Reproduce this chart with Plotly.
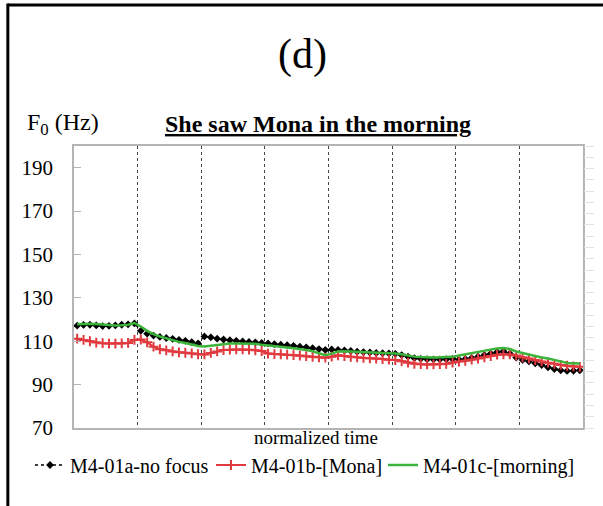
import plotly.graph_objects as go

# 80 normalized time points (10 per word segment), category centres on a 0-8 scale
n_points = 80
x_vals = [(i + 0.5) / 10 for i in range(n_points)]

no_focus = [
    117.2, 117.5, 117.6, 117.3, 117.0, 117.1, 117.3, 117.6, 117.8, 118.2,
    114.8, 113.5, 112.6, 112.0, 111.5, 111.1, 110.6, 110.2, 109.6, 109.0,
    112.2, 111.8, 111.2, 110.8, 110.5, 110.2, 109.9, 109.7, 109.5, 109.2,
    109.0, 108.7, 108.4, 108.2, 107.9, 107.5, 107.2, 106.8, 106.4, 106.0,
    106.2, 106.0, 105.8, 105.5, 105.2, 105.0, 104.8, 104.6, 104.5, 104.4,
    104.2, 103.6, 102.9, 102.2, 101.9, 101.7, 101.6, 101.6, 101.7, 101.8,
    101.5, 101.8, 102.3, 102.9, 103.6, 104.3, 105.0, 105.4, 104.3, 102.5,
    101.4, 100.7, 99.8, 99.0, 98.0, 97.2, 96.6, 96.3, 96.4, 96.6,
]
mona = [
    111.2, 110.6, 110.0, 109.4, 109.1, 108.9, 108.9, 109.0, 109.2, 110.6,
    110.8, 109.5, 107.5, 106.3, 105.8, 105.3, 104.9, 104.7, 104.4, 104.0,
    103.9, 104.6, 105.3, 105.9, 106.1, 106.2, 106.2, 106.1, 105.8, 105.5,
    104.3, 104.1, 104.0, 103.8, 103.6, 103.4, 103.1, 102.8, 102.6, 102.4,
    102.9, 103.5, 103.2, 102.8, 102.6, 102.3, 102.1, 102.0, 101.8, 101.5,
    101.3, 100.8, 100.1, 99.6, 99.4, 99.3, 99.3, 99.4, 99.6, 100.2,
    100.6, 101.0, 101.5, 102.0, 102.6, 103.2, 103.8, 104.0, 103.9, 103.4,
    102.6, 102.0, 101.3, 100.7, 100.1, 99.6, 99.1, 98.7, 98.4, 98.2,
]
morning = [
    117.8, 118.0, 118.1, 117.9, 117.6, 117.4, 117.3, 117.4, 117.6, 118.4,
    116.8, 114.8, 113.3, 112.2, 111.3, 110.6, 109.7, 109.2, 108.5, 107.8,
    107.6, 108.0, 108.4, 108.7, 108.9, 109.0, 109.0, 109.0, 108.8, 108.4,
    108.0, 107.7, 107.4, 107.1, 106.8, 106.5, 106.0, 105.4, 104.6, 103.6,
    104.3, 105.3, 105.4, 105.3, 105.2, 105.1, 105.0, 104.8, 104.6, 104.4,
    104.3, 104.0, 103.4, 102.9, 102.7, 102.5, 102.5, 102.6, 102.7, 102.8,
    103.4, 104.0, 104.5, 105.0, 105.5, 106.1, 106.7, 106.9, 106.4, 105.3,
    104.6, 103.8, 103.0, 102.5, 102.0, 101.5, 100.7, 100.0, 99.8, 99.7,
]

series_names = ["M4-01a-no focus", "M4-01b-[Mona]", "M4-01c-[morning]"]
y_ticks = [70, 90, 110, 130, 150, 170, 190]

SERIF = "Liberation Serif, Times New Roman, serif"
AXIS_GRAY = "#b4b4b4"
RED = "#e0393e"
GREEN = "#3cb43c"

fig = go.Figure()
fig.add_trace(go.Scatter(
    x=x_vals, y=no_focus, name=series_names[0], mode="lines+markers",
    line=dict(color="black", width=1.5, dash="dot"),
    marker=dict(symbol="diamond", size=6, color="black"),
    legend="legend",
))
fig.add_trace(go.Scatter(
    x=x_vals, y=mona, name=series_names[1], mode="lines+markers",
    line=dict(color=RED, width=2),
    marker=dict(symbol="cross-thin", size=7, line=dict(color=RED, width=2)),
    legend="legend2",
))
fig.add_trace(go.Scatter(
    x=x_vals, y=morning, name=series_names[2], mode="lines",
    line=dict(color=GREEN, width=2.5),
    legend="legend3",
))
# empty trace carrying the faint secondary tick strip on the right
fig.add_trace(go.Scatter(x=[], y=[], yaxis="y2", showlegend=False, hoverinfo="skip"))


def legend_at(left_px):
    return dict(orientation="h", xref="container", yref="container",
                x=left_px / 603, xanchor="left", y=0.081, yanchor="middle",
                font=dict(family=SERIF, size=20, color="black"),
                itemwidth=30, bgcolor="rgba(0,0,0,0)", borderwidth=0)


fig.update_layout(
    width=603, height=506,
    margin=dict(l=74, r=20, t=146, b=78, autoexpand=False),
    paper_bgcolor="white", plot_bgcolor="white",
    font=dict(family=SERIF, size=20, color="black"),
    showlegend=True,
    legend=legend_at(30),
    legend2=legend_at(211),
    legend3=legend_at(383),
    xaxis=dict(range=[0, 8], dtick=1, tick0=0, showticklabels=False,
               showgrid=True, gridcolor="#444444", griddash="dot", gridwidth=1,
               showline=True, linecolor=AXIS_GRAY, linewidth=1.5, mirror=True,
               zeroline=False, ticks="", fixedrange=True, automargin=False),
    yaxis=dict(range=[70, 200], tickvals=y_ticks, ticks="inside", ticklen=7,
               tickcolor=AXIS_GRAY, showgrid=False, zeroline=False,
               showline=True, linecolor=AXIS_GRAY, linewidth=1.5, mirror=True,
               tickfont=dict(family=SERIF, size=21), ticklabelstandoff=15,
               automargin=False),
    yaxis2=dict(range=[70, 200], overlaying="y", side="right", anchor="x",
                tick0=70, dtick=5.2, ticks="outside", ticklen=10, tickwidth=1,
                tickcolor="#e2e2e2", showticklabels=False, showgrid=False,
                showline=False, zeroline=False, automargin=False),
    annotations=[
        dict(text="(d)", xref="paper", yref="paper", x=0.448, y=1.323,
             xanchor="center", yanchor="middle", showarrow=False,
             font=dict(family=SERIF, size=42)),
        dict(text="F<sub>0</sub> (Hz)", xref="paper", yref="paper", x=-0.096, y=1.078,
             xanchor="left", yanchor="middle", showarrow=False,
             font=dict(family=SERIF, size=24)),
        dict(text="<b><u>She saw Mona in the morning</u></b>", xref="paper", yref="paper",
             x=0.480, y=1.078, xanchor="center", yanchor="middle", showarrow=False,
             font=dict(family=SERIF, size=24)),
        dict(text="normalized time", xref="paper", yref="paper",
             x=0.475, y=-0.032, xanchor="center", yanchor="middle", showarrow=False,
             font=dict(family=SERIF, size=19)),
    ],
    shapes=[
        dict(type="line", xref="paper", yref="paper", x0=-0.13, x1=1.05, y0=1.50, y1=1.50,
             line=dict(color="black", width=3)),
        dict(type="line", xref="paper", yref="paper", x0=-0.13, x1=-0.13, y0=1.505, y1=-0.30,
             line=dict(color="black", width=3)),
    ],
)

fig.write_html("out.html")
